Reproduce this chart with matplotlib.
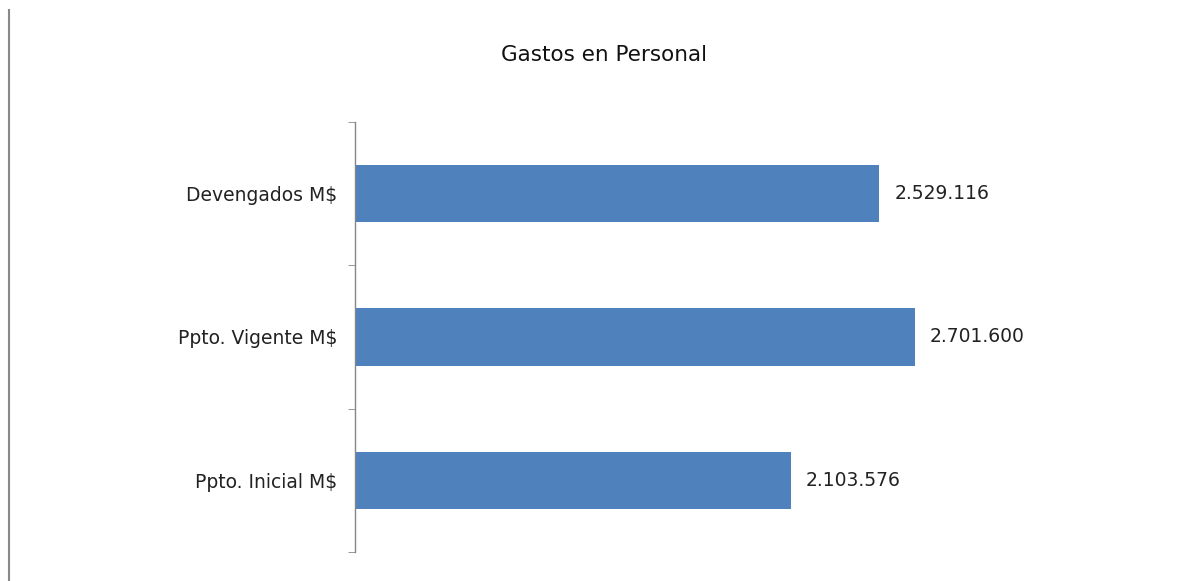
import matplotlib
matplotlib.use("Agg")
import matplotlib.pyplot as plt
from matplotlib.lines import Line2D

categories = ["Ppto. Inicial M$", "Ppto. Vigente M$", "Devengados M$"]
values = [2103576, 2701600, 2529116]
value_labels = ["2.103.576", "2.701.600", "2.529.116"]
title = "Gastos en Personal"

plt.rcParams['font.family'] = ['DejaVu Sans']

fig = plt.figure(figsize=(11.89, 5.81), dpi=100)
ax = fig.add_axes([355/1189, 1-552/581, 685/1189, 430/581])

y = list(range(len(categories)))
ax.barh(y, values, height=0.4, color="#4F81BD")
ax.set_xlim(0, 3304000)
ax.set_ylim(-0.5, len(categories) - 0.5)

for yi, v, lab in zip(y, values, value_labels):
    ax.annotate(lab, (v, yi), xytext=(15, 0), textcoords="offset pixels",
                va="center", ha="left", fontsize=13.5, color="#222222")

ax.set_yticks(y)
ax.set_yticklabels(categories, fontsize=13.5, color="#222222")
ax.tick_params(axis="y", which="major", length=0, pad=13)
ax.set_yticks([-0.5, 0.5, 1.5, 2.5], minor=True)
ax.tick_params(axis="y", which="minor", length=5, color="#868686", direction="out")

ax.xaxis.set_visible(False)
for s in ["top", "right", "bottom"]:
    ax.spines[s].set_visible(False)
ax.spines["left"].set_color("#868686")
ax.spines["left"].set_linewidth(1.0)

fig.text(604/1189, 1-55/581, title, ha="center", va="center", fontsize=15.5, color="#111111")

fig.add_artist(Line2D([9/1189, 9/1189], [0, 1-10/581], transform=fig.transFigure,
                      color="#888888", linewidth=1.5))

fig.savefig("out.png", dpi=100, facecolor="white")
